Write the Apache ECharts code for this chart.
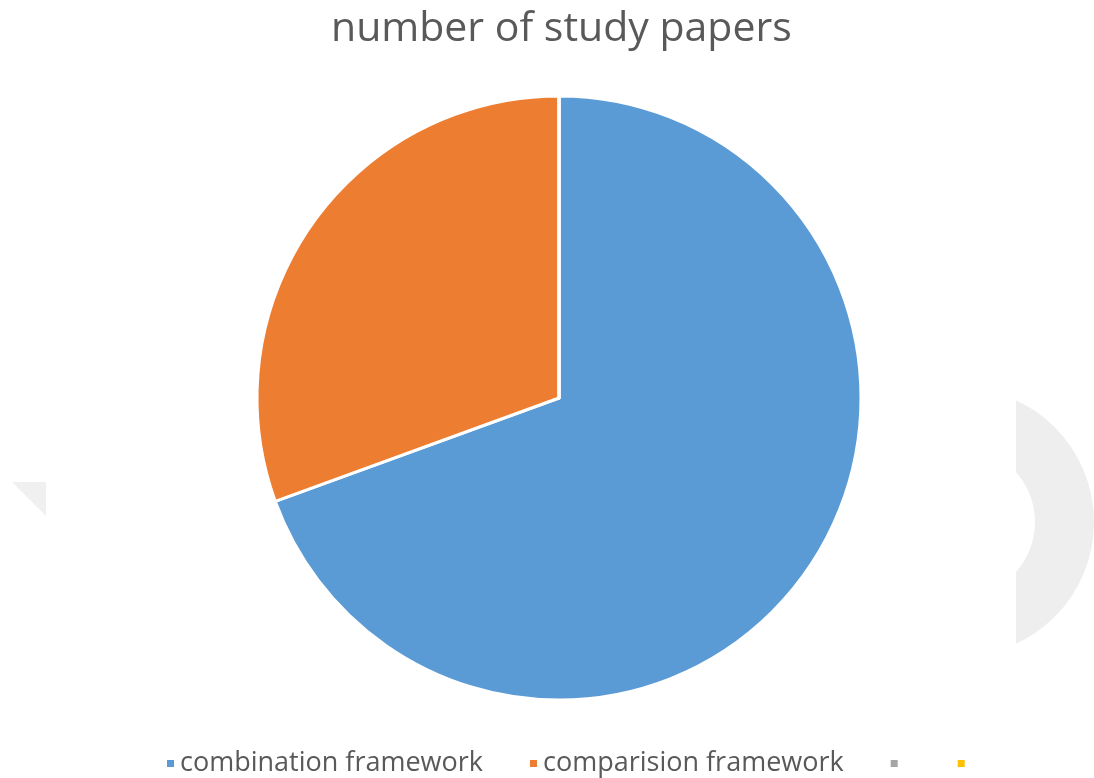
<!DOCTYPE html>
<html>
<head>
<meta charset="utf-8">
<script src="https://cdn.jsdelivr.net/npm/echarts@6/dist/echarts.min.js"></script>
<style>
  html, body { margin: 0; padding: 0; background: #fff; }
  #chart { width: 1094px; height: 778px; }
</style>
</head>
<body>
<div id="chart"></div>
<script>
// data
var categories = ["combination framework", "comparision framework", " ", "  "];
var paperCounts = [25, 11, 0, 0];
var sliceColors = ["#5B9BD5", "#ED7D31", "#A5A5A5", "#FFC000"];

var pieData = categories.map(function (name, i) {
  return { name: name, value: paperCounts[i], itemStyle: { color: sliceColors[i] } };
});

var chart = echarts.init(document.getElementById("chart"));
chart.setOption({
  backgroundColor: "#fff",
  animation: false,
  title: {
    text: "number of study papers",
    left: 326,
    top: 4,
    textStyle: {
      fontFamily: "Open Sans",
      fontSize: 41,
      fontWeight: "normal",
      color: "#595959"
    }
  },
  legend: {
    bottom: -4,
    left: 160,
    itemWidth: 9,
    itemHeight: 9,
    itemGap: 45,
    icon: "rect",
    textStyle: {
      fontFamily: "Open Sans",
      fontSize: 27,
      color: "#595959"
    },
    data: categories
  },
  // faint grey shapes that sit at the picture's edges
  graphic: [
    {
      type: "sector",
      shape: { cx: 960, cy: 522, r: 134, r0: 75, startAngle: -Math.PI / 2, endAngle: Math.PI / 2 },
      style: { fill: "#eeeeee" },
      z: 0
    },
    {
      type: "rect",
      shape: { x: 900, y: 380, width: 116, height: 290 },
      style: { fill: "#fff" },
      z: 1
    },
    {
      type: "polygon",
      shape: { points: [[12, 482], [46, 482], [46, 516]] },
      style: { fill: "#f0f0f0" },
      z: 0
    }
  ],
  series: [
    {
      type: "pie",
      center: [559, 398],
      radius: 302,
      startAngle: 90,
      clockwise: true,
      label: { show: false },
      labelLine: { show: false },
      emphasis: { disabled: true },
      itemStyle: { borderColor: "#fff", borderWidth: 3 },
      data: pieData
    }
  ]
});
</script>
</body>
</html>
